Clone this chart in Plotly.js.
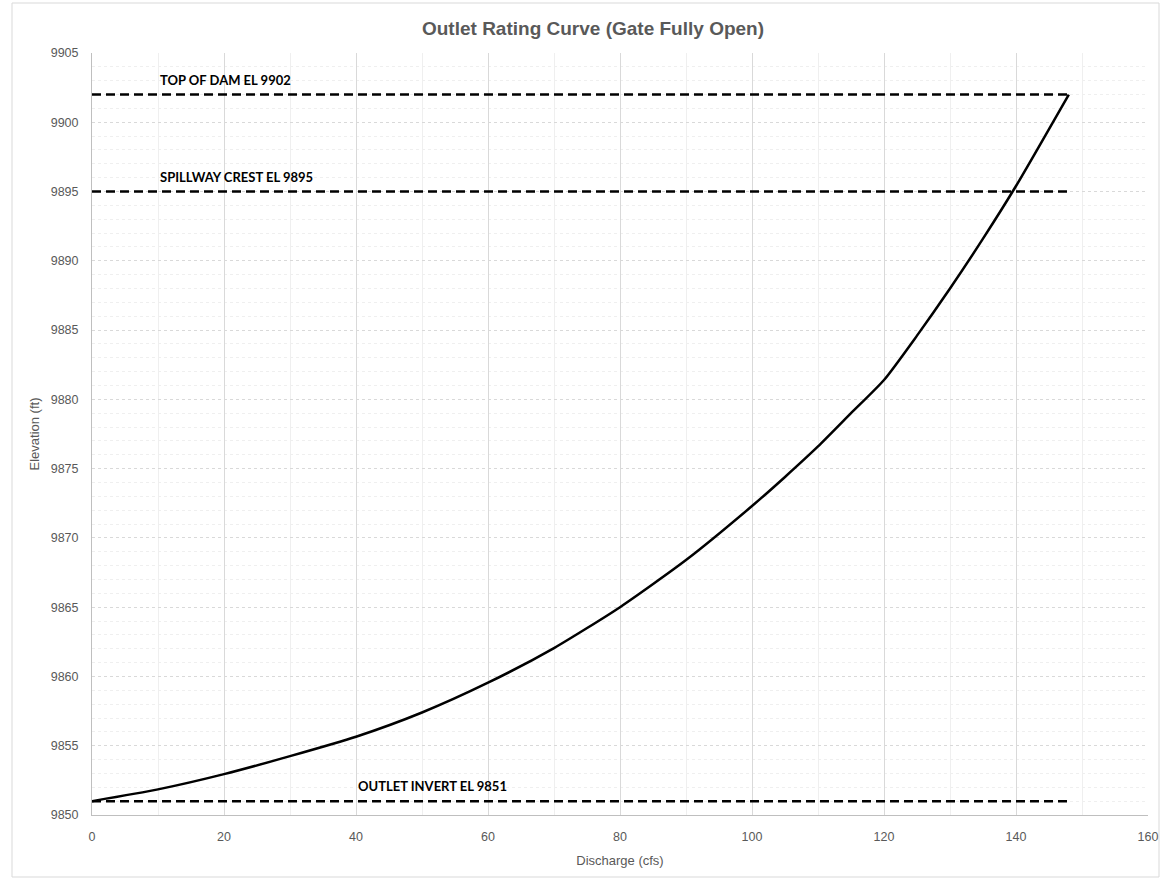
<!DOCTYPE html>
<html>
<head>
<meta charset="utf-8">
<script src="https://cdn.plot.ly/plotly-3.0.1.min.js"></script>
<style>
  html, body { margin: 0; padding: 0; background: #ffffff; }
  #chart { width: 1160px; height: 878px; }
</style>
</head>
<body>
<div id="chart"></div>
<script>
// Rating curve data
const discharge = [0, 10, 20, 30, 40, 50, 60, 70, 80, 90, 100, 105, 110, 115, 120, 125, 130, 135, 140, 148];
const elevation = [9851.0, 9851.85, 9852.95, 9854.25, 9855.65, 9857.4, 9859.55, 9862.05, 9865.0, 9868.4, 9872.3, 9874.4, 9876.6, 9879.0, 9881.4, 9884.6, 9888.0, 9891.6, 9895.4, 9902.0];

// Reference elevation lines
const refX = [0, 148];
const topOfDam = 9902;
const spillwayCrest = 9895;
const outletInvert = 9851;
const refLabels = ["TOP OF DAM EL 9902", "SPILLWAY CREST EL 9895", "OUTLET INVERT EL 9851"];
const refLabelX = [10, 10, 40];

const dashStyle = {color: '#000000', width: 2.5, dash: '9px,5px'};

const traces = [
  {x: refX, y: [topOfDam, topOfDam], mode: 'lines', line: dashStyle, hoverinfo: 'skip', showlegend: false},
  {x: refX, y: [spillwayCrest, spillwayCrest], mode: 'lines', line: dashStyle, hoverinfo: 'skip', showlegend: false},
  {x: refX, y: [outletInvert, outletInvert], mode: 'lines', line: dashStyle, hoverinfo: 'skip', showlegend: false},
  {x: discharge, y: elevation, mode: 'lines', line: {color: '#000000', width: 2.5, shape: 'spline', smoothing: 0.6}, showlegend: false}
];

const refYs = [topOfDam, spillwayCrest, outletInvert];
const annotations = refLabels.map((t, i) => ({
  x: refLabelX[i], y: refYs[i], xref: 'x', yref: 'y',
  text: t, showarrow: false, xanchor: 'left', yanchor: 'middle', yshift: 15,
  font: {family: 'Lato, "Open Sans", sans-serif', size: 13, color: '#000000', weight: 'bold'}
}));

const tickFont = {family: '"Liberation Sans", Arial, sans-serif', size: 12.5, color: '#595959'};

const layout = {
  width: 1160, height: 878,
  margin: {l: 92, r: 12, t: 53, b: 63},
  paper_bgcolor: '#ffffff', plot_bgcolor: '#ffffff',
  title: {
    text: 'Outlet Rating Curve (Gate Fully Open)',
    x: 593 / 1160, xanchor: 'center', xref: 'container',
    y: 1 - 28 / 878, yanchor: 'middle', yref: 'container',
    font: {family: '"Liberation Sans", Arial, sans-serif', size: 19, color: '#595959', weight: 'bold'}
  },
  xaxis: {
    range: [0, 160], dtick: 20, tick0: 0,
    showgrid: true, gridcolor: '#d9d9d9', gridwidth: 1,
    minor: {dtick: 10, showgrid: true, gridcolor: '#efefef', gridwidth: 1},
    showline: true, linecolor: '#bfbfbf', linewidth: 1,
    zeroline: false, ticks: '', tickfont: tickFont, ticklabelstandoff: 10,
    title: {text: 'Discharge (cfs)', font: {family: '"Liberation Sans", Arial, sans-serif', size: 13, color: '#595959'}, standoff: 12}
  },
  yaxis: {
    range: [9850, 9905], dtick: 5, tick0: 9850, tickformat: 'd',
    showgrid: true, gridcolor: '#d9d9d9', gridwidth: 1, griddash: 'dot',
    minor: {dtick: 1, showgrid: true, gridcolor: '#efefef', gridwidth: 1},
    showline: true, linecolor: '#bfbfbf', linewidth: 1,
    zeroline: false, ticks: '', tickfont: tickFont, ticklabelstandoff: 10,
    title: {text: 'Elevation (ft)', font: {family: '"Liberation Sans", Arial, sans-serif', size: 13, color: '#595959'}, standoff: 8}
  },
  annotations: annotations,
  shapes: [{
    type: 'rect', xref: 'paper', yref: 'paper',
    x0: (12 - 92) / 1056, x1: (1159 - 92) / 1056,
    y0: (815 - 877) / 762, y1: (815 - 3) / 762,
    line: {color: '#d9d9d9', width: 1}, fillcolor: 'rgba(0,0,0,0)', layer: 'below'
  }]
};

Plotly.newPlot('chart', traces, layout, {displayModeBar: false, staticPlot: true});
</script>
</body>
</html>
